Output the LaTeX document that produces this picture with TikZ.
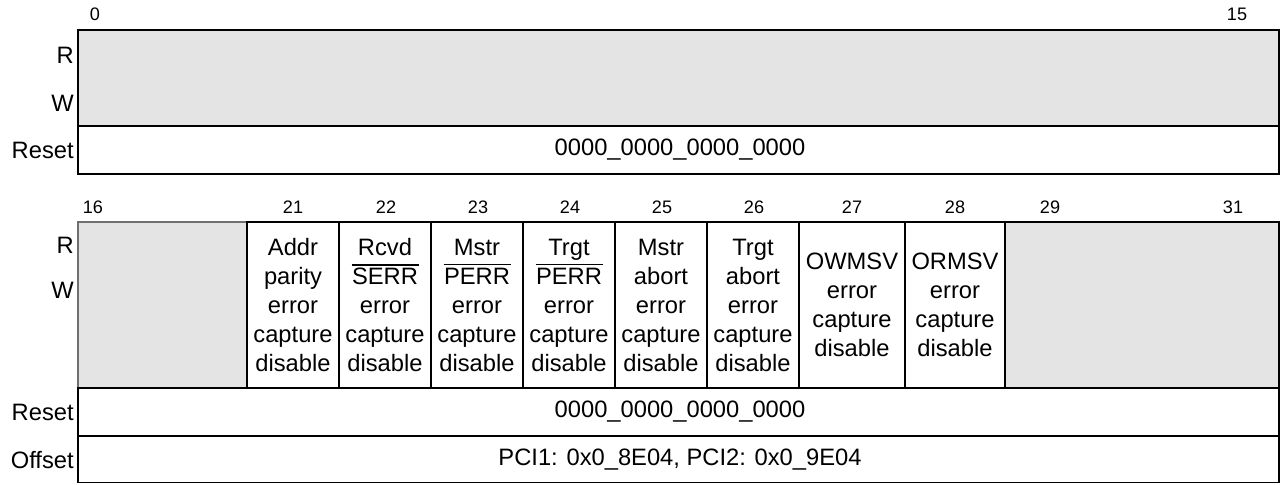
\documentclass[tikz,border=0pt]{standalone}
\usepackage{fontspec}
\setmainfont{Liberation Sans}
\usepackage{xcolor}
\usetikzlibrary{positioning}

\definecolor{rsvdfill}{RGB}{228,228,228}
\definecolor{rsvdline}{RGB}{112,112,112}
\newcommand\negsig[1]{\leavevmode\setbox0\hbox{#1}\rlap{\kern-0.3pt\rule[\dimexpr\ht0+1.3pt\relax]{\dimexpr\wd0+0.8pt\relax}{1pt}}\box0}

\begin{document}
\begin{tikzpicture}[x=0.02cm, y=-0.02cm,
    regline/.style={draw=black, line width=1.1pt},
    rsvd/.style={fill=rsvdfill},
    fieldtext/.style={align=center, inner sep=0pt, font=\fontsize{13.5}{16.5}\selectfont},
    rowlabel/.style={anchor=east, inner sep=0pt, font=\fontsize{13.5}{16}\selectfont},
    bitnum/.style={inner sep=0pt, font=\fontsize{10.3}{12}\selectfont}]
    \useasboundingbox (0,0) rectangle (1281,484);

    % bits 0..15
    \fill[rsvd] (78,30) rectangle (1279,126);
    \draw[regline] (78,30) rectangle (1279,174);
    \draw[regline] (78,126) -- (1279,126);
    \node[bitnum] (bit0) at (95,14) {0};
    \node[bitnum] (bit15) at (1237,14) {15};
    \node[rowlabel] (rup) at (74,55) {R};
    \node[rowlabel] (wup) at (74,103) {W};
    \node[rowlabel] (resetup) at (74,150) {Reset};
    \node[fieldtext] (valup) at (680,150) {0000\_0000\_0000\_0000};

    % bits 16..31
    \fill[rsvd] (78,222) rectangle (247,388);
    \draw[rsvdline, line width=0.8pt] (78,388) -- (78,222) -- (247,222) -- (247,388);
    \draw[regline, rsvd] (1005,222) rectangle (1279,388);
    \foreach \xa/\xb in {247/339, 339/431, 431/523, 523/615, 615/707, 707/799, 799/905, 905/1005}
        \draw[regline] (\xa,222) rectangle (\xb,388);
    \draw[regline] (78,388) rectangle (1279,436);
    \draw[regline] (78,436) rectangle (1279,482.5);

    \node[bitnum] (bit16) at (93,207) {16};
    \node[bitnum] (bit21) at (293,207) {21};
    \node[bitnum] (bit22) at (386,207) {22};
    \node[bitnum] (bit23) at (478,207) {23};
    \node[bitnum] (bit24) at (570,207) {24};
    \node[bitnum] (bit25) at (662,207) {25};
    \node[bitnum] (bit26) at (754,207) {26};
    \node[bitnum] (bit27) at (852,207) {27};
    \node[bitnum] (bit28) at (955,207) {28};
    \node[bitnum] (bit29) at (1050,207) {29};
    \node[bitnum] (bit31) at (1233,207) {31};

    \node[rowlabel] (rlow) at (74,245) {R};
    \node[rowlabel] (wlow) at (74,290) {W};
    \node[rowlabel] (resetlow) at (74,412) {Reset};
    \node[rowlabel] (offset) at (74,460) {Offset};

    \node[fieldtext] (apcd) at (293,305) {Addr\\parity\\error\\capture\\disable};
    \node[fieldtext] (serrcd) at (385,305) {Rcvd\\\negsig{SERR}\\error\\capture\\disable};
    \node[fieldtext] (mperrcd) at (477,305) {Mstr\\\negsig{PERR}\\error\\capture\\disable};
    \node[fieldtext] (tperrcd) at (569,305) {Trgt\\\negsig{PERR}\\error\\capture\\disable};
    \node[fieldtext] (macd) at (661,305) {Mstr\\abort\\error\\capture\\disable};
    \node[fieldtext] (tacd) at (753,305) {Trgt\\abort\\error\\capture\\disable};
    \node[fieldtext] (owmsvcd) at (852,305) {OWMSV\\error\\capture\\disable};
    \node[fieldtext] (ormsvcd) at (955,305) {ORMSV\\error\\capture\\disable};

    \node[fieldtext] (vallow) at (680,412) {0000\_0000\_0000\_0000};
    \node[fieldtext] (offsetval) at (680,460) {PCI1: 0x0\_8E04, PCI2: 0x0\_9E04};
\end{tikzpicture}
\end{document}
